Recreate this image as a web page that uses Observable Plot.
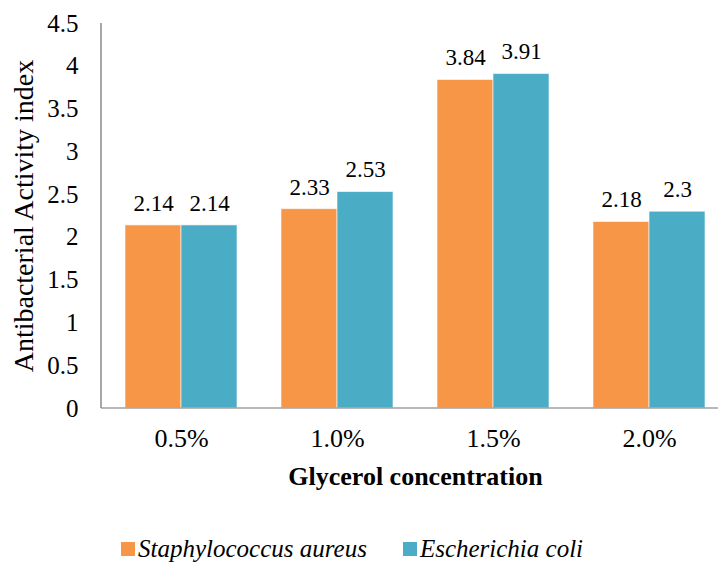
<!DOCTYPE html>
<html>
<head>
<meta charset="utf-8">
<script src="https://cdn.jsdelivr.net/npm/d3@7"></script>
<script src="https://cdn.jsdelivr.net/npm/@observablehq/plot@0.6"></script>
<style>
  html, body { margin: 0; padding: 0; background: #fff; }
  #wrap { width: 718px; height: 562px; overflow: hidden; position: relative; }
  #legend { position: absolute; left: 121px; top: 535px; height: 28px; display: flex; align-items: center;
    font: italic 25px "Liberation Serif", serif; color: #000; white-space: nowrap; }
  #legend .item { display: flex; align-items: center; margin-right: 36px; }
  #legend .sw { width: 14px; height: 14px; margin-right: 3px; }
</style>
</head>
<body>
<div id="wrap"><div id="chart"></div><div id="legend"></div></div>
<script>
const categories = ["0.5%", "1.0%", "1.5%", "2.0%"];
const series = ["Staphylococcus aureus", "Escherichia coli"];
const staphValues = [2.14, 2.33, 3.84, 2.18];
const ecoliValues = [2.14, 2.53, 3.91, 2.3];
const yTicks = [0, 0.5, 1, 1.5, 2, 2.5, 3, 3.5, 4, 4.5];
const colors = ["#F79646", "#4BACC6"];

const rows = [];
categories.forEach((c, i) => {
  rows.push({cat: c, series: series[0], value: staphValues[i]});
  rows.push({cat: c, series: series[1], value: ecoliValues[i]});
});

const W = 730, ML = 101, MR = 1;
const chart = Plot.plot({
  width: W,
  height: 500,
  marginLeft: ML,
  marginRight: MR,
  marginTop: 23,
  marginBottom: 92,
  style: {fontFamily: "'Liberation Serif', serif", fontSize: "25px", color: "#000", background: "#fff", maxWidth: "none"},
  fx: {domain: categories, paddingInner: 0.285, paddingOuter: 0.147},
  x: {domain: series, padding: 0, axis: null},
  y: {domain: [0, 4.5]},
  color: {domain: series, range: colors},
  marks: [
    Plot.barY(rows, {fx: "cat", x: "series", y: "value", fill: "series", stroke: "#ffffff", strokeOpacity: 0.6, strokeWidth: 1}),
    Plot.text(rows, {fx: "cat", x: "series", y: "value", text: d => String(d.value), dy: -22, fontSize: 23, fill: "#000"}),
    Plot.axisY({ticks: yTicks, tickFormat: d => String(d), tickSize: 0, tickPadding: 47, fontSize: 25, label: null}),
    Plot.axisY({ticks: [], tickSize: 0, fontSize: 28,
      label: "Antibacterial Activity index", labelAnchor: "center", labelOffset: 112, labelArrow: "none"}),
    Plot.axisFx({anchor: "bottom", tickSize: 0, tickPadding: 20, fontSize: 26, label: null}),
    Plot.axisFx({anchor: "bottom", ticks: [], tickSize: 0, fontSize: 26, fontWeight: "bold",
      label: "Glycerol concentration", labelAnchor: "center", labelOffset: 76, labelArrow: "none"})
  ]
});
document.getElementById("chart").appendChild(chart);

// axis lines drawn through Plot's own y scale
const ys = chart.scale("y");
const svg = d3.select(chart);
svg.append("line")
  .attr("x1", ML).attr("x2", W - MR)
  .attr("y1", ys.apply(0)).attr("y2", ys.apply(0))
  .attr("stroke", "#a0a0a0").attr("stroke-width", 1.5);
svg.append("line")
  .attr("x1", ML).attr("x2", ML)
  .attr("y1", ys.apply(yTicks[yTicks.length - 1])).attr("y2", ys.apply(0))
  .attr("stroke", "#8a8a8a").attr("stroke-width", 1.5);

const legend = d3.select("#legend");
series.forEach((s, i) => {
  const item = legend.append("div").attr("class", "item");
  item.append("div").attr("class", "sw").style("background", colors[i]);
  item.append("span").text(s);
});
</script>
</body>
</html>
